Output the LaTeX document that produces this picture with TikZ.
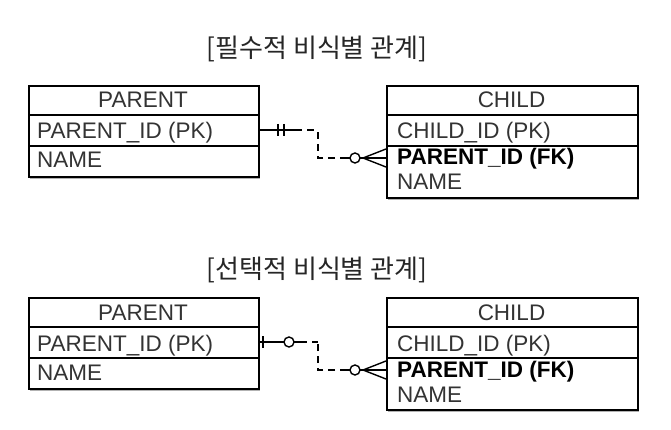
\documentclass[tikz,border=0pt]{standalone}
\usepackage{fontspec}
\setmainfont{Liberation Sans}
\newfontfamily\kr{Noto Sans CJK KR}
\usetikzlibrary{shadows,calc}
\definecolor{txt}{HTML}{333333}
\tikzset{
  tbl/.style={draw, line width=1.6pt, fill=white, inner sep=0pt, anchor=north west,
    drop shadow={shadow xshift=1.5pt, shadow yshift=-2.5pt, fill=black!60}},
  lbl/.style={anchor=base west, inner sep=0pt, text=txt, font=\fontsize{22.5}{26}\selectfont},
  hdr/.style={anchor=base, inner sep=0pt, text=txt, font=\fontsize{22.5}{26}\selectfont},
  ttl/.style={inner sep=0pt, text=black!85, font=\kr\fontsize{26}{30}\selectfont},
  conn/.style={line width=1.4pt},
  dconn/.style={line width=1.4pt, dash pattern=on 7pt off 5pt},
  divl/.style={line width=1.6pt},
}
\begin{document}
\begin{tikzpicture}[x=1pt,y=-1pt]
\useasboundingbox[fill=white] (0,0) rectangle (671,430);

\foreach \dy/\tt/\k in {0/{[필수적 비식별 관계]}/a, 212/{[선택적 비식별 관계]}/b}{
  \node[ttl] (title\k) at (317,{49+\dy+(\dy>0 ? 9 : 0)}) {\tt};
  % parent table
  \node[tbl, minimum width=230pt, minimum height=91pt] (par\k) at (28,85+\dy) {};
  \draw[divl] ([yshift=-30pt]par\k.north west) -- ([yshift=-30pt]par\k.north east);
  \draw[divl] ([yshift=-61pt]par\k.north west) -- ([yshift=-61pt]par\k.north east);
  \node[hdr] (parh\k) at (143,108+\dy) {PARENT};
  \node[lbl] (parid\k) at (37,139+\dy) {PARENT\_ID (PK)};
  \node[lbl] (parn\k) at (37,168+\dy) {NAME};
  % child table
  \node[tbl, minimum width=251pt, minimum height=112pt] (ch\k) at (386,85+\dy) {};
  \draw[divl] ([yshift=-30pt]ch\k.north west) -- ([yshift=-30pt]ch\k.north east);
  \draw[divl] ([yshift=-61pt]ch\k.north west) -- ([yshift=-61pt]ch\k.north east);
  \node[hdr] (chh\k) at (511.5,108+\dy) {CHILD};
  \node[lbl] (chid\k) at (397,139+\dy) {CHILD\_ID (PK)};
  \node[lbl, text=black] (chfk\k) at (397,165+\dy) {\bfseries PARENT\_ID (FK)};
  \node[lbl] (chn\k) at (397,190+\dy) {NAME};
  % connection points
  \coordinate (ps\k) at (258,130+\dy);
  \coordinate (ce\k) at (386,158+\dy);
  \coordinate (bend\k) at (318,130+\dy);
  \coordinate (bend2\k) at (318,158+\dy);
  % child end: circle + crow's foot
  \draw[dconn] ($(ce\k)+(-39,0)$) -- ($(ce\k)+(-68,0)$) -- (bend2\k) -- (bend\k);
  \draw[conn] ($(ce\k)+(-39,0)$) -- ($(ce\k)+(-36,0)$);
  \draw[conn] ($(ce\k)+(-31,0)$) circle (5pt);
  \draw[conn] ($(ce\k)+(-26,0)$) -- (ce\k);
  \draw[conn] ($(ce\k)+(-23,0)$) -- ($(ce\k)+(0,-9)$);
  \draw[conn] ($(ce\k)+(-23,0)$) -- ($(ce\k)+(0,9)$);
}
% mandatory parent end
\draw[conn] (psa) -- ++(37,0) coordinate (psa2);
\draw[dconn] (psa2) -- (benda);
\draw[conn] ($(psa)+(20,-6)$) -- ($(psa)+(20,6)$);
\draw[conn] ($(psa)+(26,-6)$) -- ($(psa)+(26,6)$);
% optional parent end
\draw[conn] (psb) -- ++(26,0);
\draw[conn] ($(psb)+(5,-6)$) -- ($(psb)+(5,6)$);
\draw[conn] ($(psb)+(31,0)$) circle (5pt);
\draw[conn] ($(psb)+(36,0)$) -- ++(6,0) coordinate (psb2);
\draw[dconn] (psb2) -- (bendb);
\end{tikzpicture}
\end{document}
